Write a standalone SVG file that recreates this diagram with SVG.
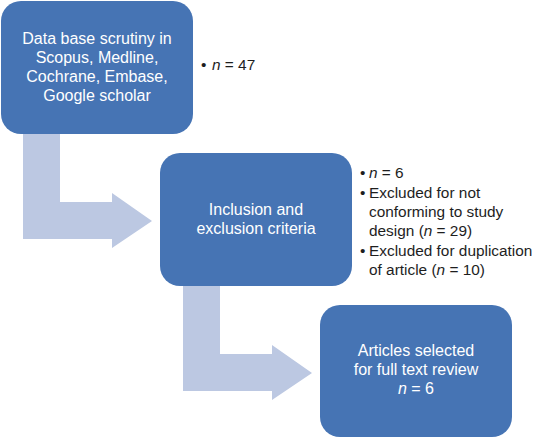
<svg xmlns="http://www.w3.org/2000/svg" width="538" height="439" viewBox="0 0 538 439">
<style>
.box{fill:#4674b4;}
.arr{fill:#bcc8e2;}
.bt{font-family:"Liberation Sans",Arial,sans-serif;font-size:16px;fill:#ffffff;text-anchor:middle;}
.nt{font-family:"Liberation Sans",Arial,sans-serif;font-size:15.4px;fill:#1e1e1e;}
</style>
<rect width="538" height="439" fill="#ffffff"/>
<g id="connectors">
<path class="arr" d="M23,134 L60,134 L60,202 L112,202 L112,193 L152,221 L112,248 L112,239 L23,239 Z"/>
<path class="arr" d="M183,286 L220,286 L220,354 L272,354 L272,345 L312,373 L272,400 L272,391 L183,391 Z"/>
</g>
<g id="node1">
<rect class="box" x="1" y="1" width="192" height="133" rx="20"/>
<text class="bt" x="97" y="44">Data base scrutiny in</text>
<text class="bt" x="97" y="63">Scopus, Medline,</text>
<text class="bt" x="97" y="82">Cochrane, Embase,</text>
<text class="bt" x="97" y="101">Google scholar</text>
</g>
<g id="note1">
<text class="nt" x="201" y="70">•</text>
<text class="nt" x="212" y="70"><tspan font-style="italic">n</tspan> = 47</text>
</g>
<g id="node2">
<rect class="box" x="160" y="153" width="192" height="133" rx="20"/>
<text class="bt" x="256" y="215">Inclusion and</text>
<text class="bt" x="256" y="234">exclusion criteria</text>
</g>
<g id="note2">
<text class="nt" x="360" y="178">•</text>
<text class="nt" x="369" y="178"><tspan font-style="italic">n</tspan> = 6</text>
<text class="nt" x="360" y="198">•</text>
<text class="nt" x="369" y="198">Excluded for not</text>
<text class="nt" x="369" y="217">conforming to study</text>
<text class="nt" x="369" y="236">design (<tspan font-style="italic">n</tspan> = 29)</text>
<text class="nt" x="360" y="256">•</text>
<text class="nt" x="369" y="256">Excluded for duplication</text>
<text class="nt" x="369" y="275">of article (<tspan font-style="italic">n</tspan> = 10)</text>
</g>
<g id="node3">
<rect class="box" x="320" y="305" width="192" height="132" rx="20"/>
<text class="bt" x="416" y="356">Articles selected</text>
<text class="bt" x="416" y="375">for full text review</text>
<text class="bt" x="416" y="394"><tspan font-style="italic">n</tspan> = 6</text>
</g>
</svg>
